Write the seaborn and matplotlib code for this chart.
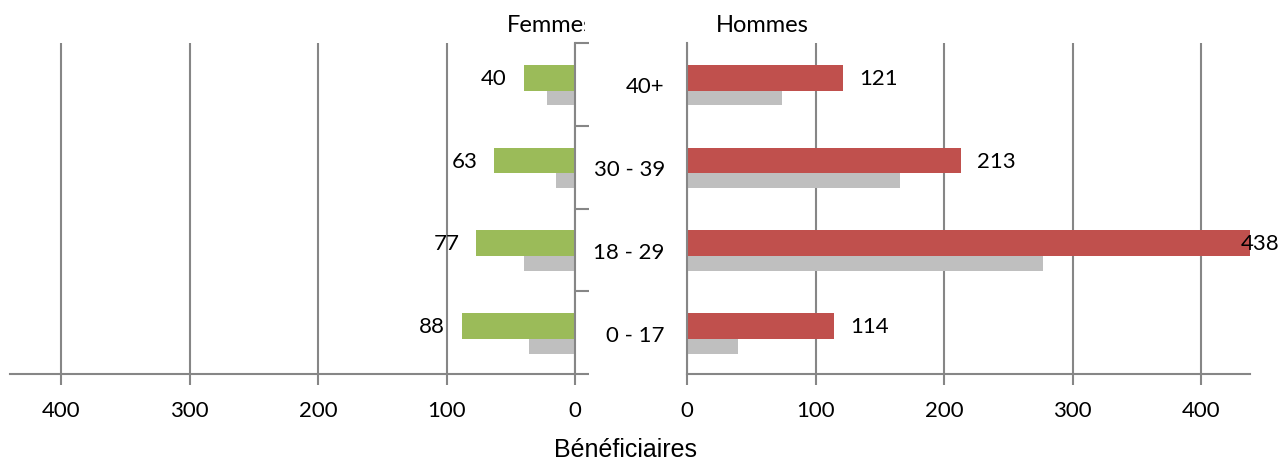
import matplotlib
matplotlib.use("Agg")
import matplotlib.pyplot as plt
import seaborn as sns
from matplotlib.patches import Rectangle

# Données (de haut en bas)
categories = ["40+", "30 - 39", "18 - 29", "0 - 17"]
femmes = [40, 63, 77, 88]
femmes_prec = [22, 15, 40, 36]
hommes = [121, 213, 438, 114]
hommes_prec = [74, 166, 277, 40]
x_ticks = [0, 100, 200, 300, 400]

GREEN = "#9BBB59"
RED = "#C0504D"
GREY = "#BFBFBF"
AXIS = "#868686"
FS = 16

sns.set_theme(style="white")
plt.rcParams["font.family"] = ["Lato", "DejaVu Sans"]
plt.rcParams["text.color"] = "black"
plt.rcParams["xtick.labelcolor"] = "black"
plt.rcParams["ytick.labelcolor"] = "black"

fig = plt.figure(figsize=(12.82, 4.6), dpi=100)
ax_f = fig.add_axes([10 / 1282, 1 - 375 / 460, 565 / 1282, 331 / 460])
ax_h = fig.add_axes([687 / 1282, 1 - 375 / 460, 563 / 1282, 331 / 460])

W_MAIN, W_PREV = 0.31, 0.18
OFF_MAIN, OFF_PREV = -0.08, 0.165


def draw(ax, main, prev, color):
    sns.barplot(x=prev, y=categories, orient="h", color=GREY, width=W_PREV,
                saturation=1, ax=ax)
    n = len(categories)
    for p in ax.patches[:n]:
        p.set_y(p.get_y() + OFF_PREV)
        p.set_edgecolor("none")
    sns.barplot(x=main, y=categories, orient="h", color=color, width=W_MAIN,
                saturation=1, ax=ax)
    for p in ax.patches[n:]:
        p.set_y(p.get_y() + OFF_MAIN)
        p.set_edgecolor("none")
    ax.set_ylim(len(categories) - 0.5, -0.5)
    ax.set_xticks(x_ticks)
    ax.set_xticklabels([str(t) for t in x_ticks])
    ax.xaxis.grid(True, color=AXIS, lw=1.5)
    ax.yaxis.grid(False)
    ax.set_axisbelow(True)
    ax.tick_params(axis="x", direction="out", length=8, width=1.5, color=AXIS,
                   labelsize=FS, labelcolor="black", pad=11, bottom=True)
    ax.set_yticks(range(len(categories)))
    ax.set_yticks([i - 0.5 for i in range(len(categories) + 1)], minor=True)
    ax.tick_params(axis="y", which="major", length=0)
    ax.tick_params(axis="y", which="minor", direction="out", length=10,
                   width=1.5, color=AXIS)
    for s in ax.spines.values():
        s.set_color(AXIS)
        s.set_linewidth(1.5)
    ax.spines["top"].set_visible(False)
    ax.set_xlabel("")
    ax.set_ylabel("")


draw(ax_f, femmes, femmes_prec, GREEN)
ax_f.set_xlim(440, 0)
ax_f.yaxis.tick_right()
ax_f.set_yticklabels([])
ax_f.spines["left"].set_visible(False)
for i, v in enumerate(femmes):
    ax_f.annotate(str(v), (v, i + OFF_MAIN), xytext=(-12, 0),
                  textcoords="offset points", ha="right", va="center",
                  fontsize=FS, color="black")

draw(ax_h, hommes, hommes_prec, RED)
ax_h.set_xlim(0, 438)
ax_h.set_yticklabels(categories)
ax_h.tick_params(axis="y", which="major", labelsize=FS, labelcolor="black",
                 pad=16)
ax_h.spines["right"].set_visible(False)
for i, v in enumerate(hommes):
    if v > 400:
        off = -7
    else:
        off = 12
    ax_h.annotate(str(v), (v, i + OFF_MAIN), xytext=(off, 0),
                  textcoords="offset points", ha="left", va="center",
                  fontsize=FS, color="black", annotation_clip=False)

t = fig.text(594 / 1282, 1 - 26 / 460, "Femmes", ha="right", va="center",
             fontsize=17, color="black")
clip = Rectangle((0, 0), 585 / 1282, 1, transform=fig.transFigure)
t.set_clip_path(clip)
fig.text(762 / 1282, 1 - 26 / 460, "Hommes", ha="center", va="center",
         fontsize=17, color="black")
fig.text(625 / 1282, 1 - 450 / 460, "Bénéficiaires", ha="center",
         va="center", fontsize=18, color="black",
         family=["Liberation Sans", "DejaVu Sans"])

fig.savefig("out.png", dpi=100)
